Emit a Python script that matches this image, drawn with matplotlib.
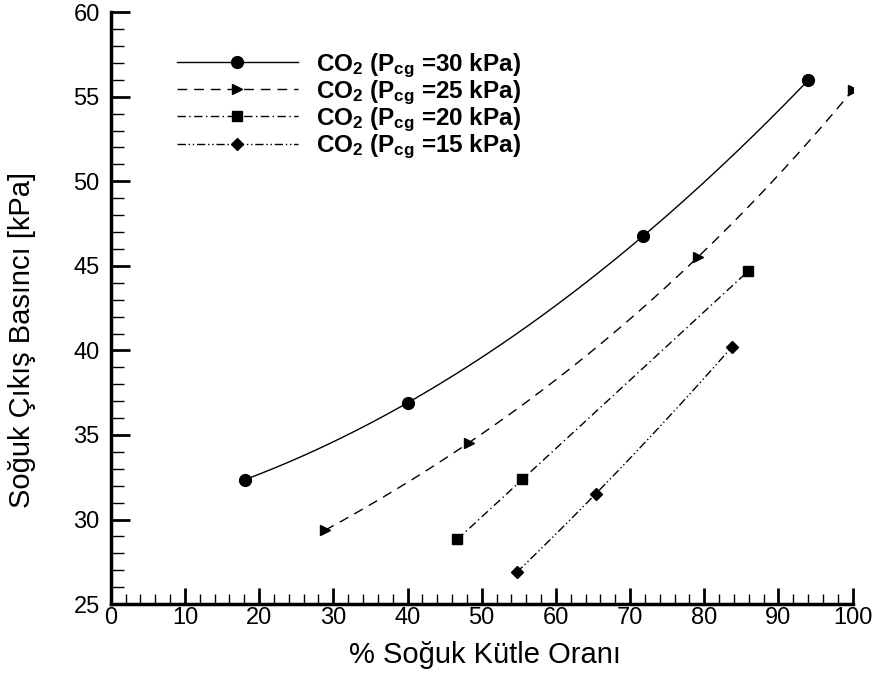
import numpy as np
import matplotlib
matplotlib.use("Agg")
import matplotlib.pyplot as plt
from matplotlib.ticker import MultipleLocator

plt.rcParams['font.family'] = ['Liberation Sans', 'DejaVu Sans']
plt.rcParams['mathtext.default'] = 'regular'

# Data
x_30 = [18.1, 40.0, 71.7, 94.0]
y_30 = [32.36, 36.9, 46.74, 55.97]
x_25 = [28.9, 48.3, 79.1, 100.0]
y_25 = [29.37, 34.55, 45.5, 55.38]
x_20 = [46.7, 55.5, 85.9]
y_20 = [28.82, 32.38, 44.68]
x_15 = [54.7, 65.4, 83.7]
y_15 = [26.87, 31.53, 40.19]

labels = [r"CO$_2$ (P$_{cg}$ =30 kPa)",
          r"CO$_2$ (P$_{cg}$ =25 kPa)",
          r"CO$_2$ (P$_{cg}$ =20 kPa)",
          r"CO$_2$ (P$_{cg}$ =15 kPa)"]

x_ticks = list(range(0, 101, 10))
y_ticks = list(range(25, 61, 5))

series = [(x_30, y_30), (x_25, y_25), (x_20, y_20), (x_15, y_15)]
markers = ['o', '>', 's', 'D']
msizes = [8.5, 7.5, 7.0, 6.2]
styles = ['-', (0, (7, 5)), (0, (6, 2.5, 1, 2.5)), (0, (6, 2, 1, 2, 1, 2))]

fig = plt.figure(figsize=(8.79, 6.78), dpi=100)
ax = fig.add_axes([0.126, 0.109, 0.844, 0.873])

handles = []
for (xs, ys), mk, ms, ls, lab in zip(series, markers, msizes, styles, labels):
    xs = np.asarray(xs); ys = np.asarray(ys)
    coef = np.polyfit(xs, ys, len(xs) - 1)
    xf = np.linspace(xs.min(), xs.max(), 200)
    ax.plot(xf, np.polyval(coef, xf), color='black', lw=1.0, linestyle=ls)
    ax.plot(xs, ys, linestyle='none', marker=mk, markersize=ms, color='black')
    h, = ax.plot([], [], color='black', lw=1.0, linestyle=ls, marker=mk,
                 markersize=ms, label=lab)
    handles.append(h)

ax.set_xlim(0, 100)
ax.set_ylim(25, 60)
ax.set_xticks(x_ticks)
ax.set_yticks(y_ticks)
ax.xaxis.set_minor_locator(MultipleLocator(2))
ax.yaxis.set_minor_locator(MultipleLocator(1))

for s in ['top', 'right']:
    ax.spines[s].set_visible(False)
for s in ['left', 'bottom']:
    ax.spines[s].set_linewidth(2.5)

ax.tick_params(axis='both', which='major', direction='in', width=2.0, labelsize=17)
ax.tick_params(axis='y', which='major', length=14, pad=8)
ax.tick_params(axis='x', which='major', length=11.5, pad=2)
ax.tick_params(axis='y', which='minor', direction='in', length=9, width=1.0)
ax.tick_params(axis='x', which='minor', direction='in', length=7, width=1.0)

ax.set_xlabel("% Soğuk Kütle Oranı", fontsize=21)
ax.set_ylabel("Soğuk Çıkış Basıncı [kPa]", fontsize=21)
ax.xaxis.set_label_coords(0.505, -0.086, transform=ax.transAxes)
ax.yaxis.set_label_coords(-0.12, 0.446, transform=ax.transAxes)
ax.xaxis.label.set_va('center')
ax.yaxis.label.set_va('center')

leg = ax.legend(handles=handles, loc='upper left', bbox_to_anchor=(0.066, 0.963),
                frameon=False, numpoints=1, handlelength=5.0, handletextpad=0.75,
                labelspacing=-0.05, borderpad=0.2,
                prop={'weight': 'bold', 'size': 17.5})

fig.savefig("out.png", dpi=100)
